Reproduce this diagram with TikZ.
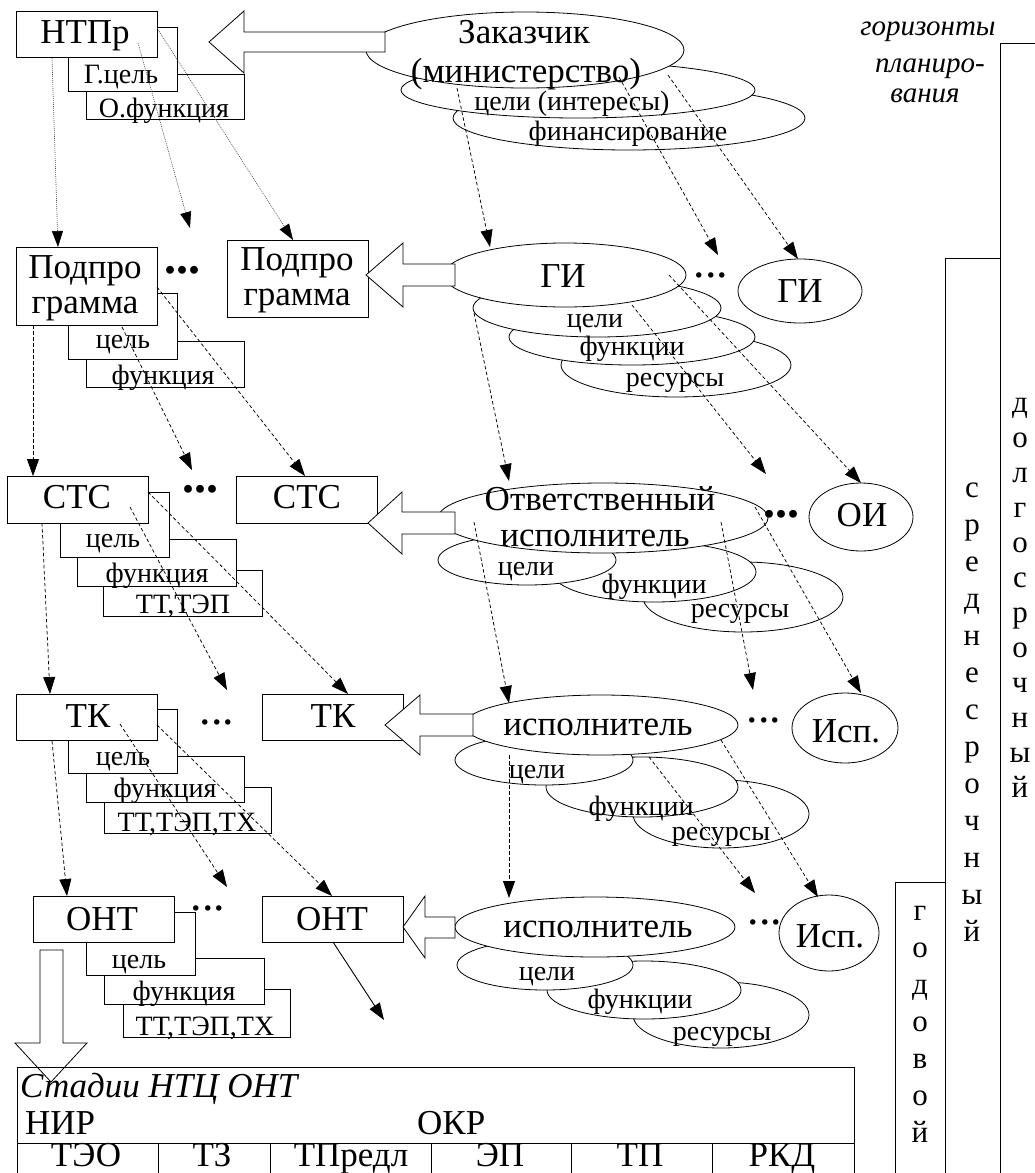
\documentclass[tikz,border=0pt]{standalone}
\usepackage{fontspec}
\setmainfont{Liberation Serif}
\usetikzlibrary{arrows.meta,shapes.geometric,fit}
\begin{document}
\begin{tikzpicture}[x=1pt,y=-1pt,
  frm/.style={line width=0.8pt},
  box/.style={draw,fill=white,line width=0.8pt,inner sep=0pt,outer sep=0pt},
  ell/.style={draw,fill=white,ellipse,line width=0.8pt,inner sep=0pt,outer sep=0pt},
  barrow/.style={draw,fill=white,line width=0.8pt,line join=miter},
  txt/.style={inner sep=0pt,anchor=base,font=\fontsize{35}{38}\selectfont},
  stxt/.style={inner sep=0pt,anchor=base,font=\fontsize{28}{32}\selectfont},
  itxt/.style={inner sep=0pt,anchor=base,font=\fontsize{29}{32}\selectfont\itshape},
  ltxt/.style={inner sep=0pt,anchor=mid,font=\fontsize{31}{34}\selectfont},
  tbl/.style={inner sep=0pt,anchor=base,font=\fontsize{35}{38}\selectfont},
  bdots/.style={inner sep=0pt,anchor=base,font=\fontsize{48}{52}\selectfont\bfseries},
  rdots/.style={inner sep=0pt,anchor=base,font=\fontsize{46}{50}\selectfont},
  dsh/.style={line width=0.75pt,dash pattern=on 3.5pt off 2.5pt,-{Triangle[length=17pt,width=12pt]}},
  dtd/.style={line width=0.6pt,black!70,dash pattern=on 1pt off 1pt,-{Triangle[length=16pt,width=11pt,color=black]}},
  sol/.style={line width=0.9pt,-{Triangle[length=17pt,width=12pt]}}
]
\useasboundingbox (0,0) rectangle (1034,1173);
\fill[white] (0,0) rectangle (1034,1173);

% ---------- planning horizons ----------
\draw[frm] (1000,1180) -- (1000,43) -- (1040,43);
\draw[frm] (945,1180) -- (945,258) -- (1000,258);
\draw[frm] (895,1180) -- (895,882) -- (945,882);
\node[itxt] (hz1) at (928,35) {горизонты};
\node[itxt] (hz2) at (930,72) {планиро-};
\node[itxt] (hz3) at (925,102) {вания};
\foreach \c [count=\i from 0] in {д,о,л,г,о,с,р,о,ч,н,ы,й}
  \node[ltxt] (dl\i) at (1020,410+35*\i) {\c};
\foreach \c [count=\i from 0] in {с,р,е,д,н,е,с,р,о,ч,н,ы,й}
  \node[ltxt] (sr\i) at (972,495+37*\i) {\c};
\foreach \c [count=\i from 0] in {г,о,д,о,в,о,й}
  \node[ltxt] (gd\i) at (920,918+37*\i) {\c};

% ---------- row 1 ----------
\node[box,fit={(86,74)(244,119)}] (ofun) {};
\node[box,fit={(68,27)(177,91)}] (gcel) {};
\node[box,fit={(16,11)(157,57)}] (ntpr) {};
\node[ell,minimum width=352pt,minimum height=64pt] (fin) at (629,118) {};
\node[ell,minimum width=354pt,minimum height=56pt] (zcel) at (578,90) {};
\node[ell,minimum width=318pt,minimum height=76pt] (zak) at (525,50) {};
\draw[barrow] (209,42) -- (244,11) -- (244,32) -- (385,32) -- (385,52) -- (244,52) -- (244,73) -- cycle;
\node[txt] (tntpr) at (85,43) {НТПр};
\node[stxt] (tgcel) at (121,83) {Г.цель};
\node[stxt] (tofun) at (164,117) {О.функция};
\node[txt] (tzak1) at (524,43) {Заказчик};
\node[txt] (tzak2) at (526,82) {(министерство)};
\node[stxt] (tzcel) at (572,110) {цели (интересы)};
\node[stxt] (tfin) at (628,140) {финансирование};

% ---------- row 2 ----------
\node[box,fit={(86,341)(244,387)}] (pfun) {};
\node[box,fit={(68,293)(177,359)}] (pcel) {};
\node[box,fit={(16,247)(157,325)}] (pp1) {};
\node[box,fit={(227,240)(368,317)}] (pp2) {};
\node[ell,minimum width=230pt,minimum height=64pt] (gres) at (676,365) {};
\node[ell,minimum width=246pt,minimum height=56pt] (gfun) at (632,337) {};
\node[ell,minimum width=248pt,minimum height=58pt] (gcelx) at (597,308) {};
\node[ell,minimum width=242pt,minimum height=64pt] (gi) at (565,275) {};
\node[ell,minimum width=124pt,minimum height=64pt] (gi2) at (800,291) {};
\draw[barrow] (366,275) -- (403,243) -- (403,264) -- (455,264) -- (455,286) -- (403,286) -- (403,307) -- cycle;
\node[txt] (tpp1a) at (85,278) {Подпро};
\node[txt] (tpp1b) at (85,313) {грамма};
\node[stxt] (tpcel) at (123,348) {цель};
\node[stxt] (tpfun) at (163,384) {функция};
\node[txt] (tpp2a) at (297,270) {Подпро};
\node[txt] (tpp2b) at (297,305) {грамма};
\node[bdots] (dot2l) at (182,273) {...};
\node[txt] (tgi) at (563,287) {ГИ};
\node[rdots] (dot2r) at (711,277) {...};
\node[txt] (tgi2) at (800,302) {ГИ};
\node[stxt] (tgcelx) at (595,327) {цели};
\node[stxt] (tgfun) at (632,355) {функции};
\node[stxt] (tgres) at (675,386) {ресурсы};

% ---------- row 3 ----------
\node[box,fit={(103,570)(262,616)}] (stt) {};
\node[box,fit={(77,539)(236,586)}] (sfun) {};
\node[box,fit={(60,492)(169,557)}] (scel) {};
\node[box,fit={(7,476)(148,523)}] (sts1) {};
\node[box,fit={(236,476)(377,523)}] (sts2) {};
\node[ell,minimum width=200pt,minimum height=70pt] (ores) at (743,597) {};
\node[ell,minimum width=204pt,minimum height=60pt] (ofunx) at (654,572) {};
\node[ell,minimum width=178pt,minimum height=50pt] (ocel) at (527,560) {};
\node[ell,minimum width=330pt,minimum height=70pt] (otv) at (603,518) {};
\node[ell,minimum width=104pt,minimum height=68pt] (oi) at (861,517) {};
\draw[barrow] (368,523) -- (402,492) -- (402,512) -- (455,512) -- (455,534) -- (402,534) -- (402,554) -- cycle;
\node[txt] (tsts1) at (77,508) {СТС};
\node[stxt] (tscel) at (113,547) {цель};
\node[stxt] (tsfun) at (157,582) {функция};
\node[stxt] (tstt) at (183,613) {ТТ,ТЭП};
\node[txt] (tsts2) at (307,508) {СТС};
\node[bdots] (dot3l) at (200,492) {...};
\node[txt] (totv1) at (600,510) {Ответственный};
\node[txt] (totv2) at (595,546) {исполнитель};
\node[bdots] (dot3r) at (781,517) {...};
\node[txt] (toi) at (862,526) {ОИ};
\node[stxt] (tocel) at (526,575) {цели};
\node[stxt] (tofunx) at (654,593) {функции};
\node[stxt] (tores) at (740,617) {ресурсы};

% ---------- row 4 ----------
\node[box,fit={(104,787)(271,833)}] (ktt) {};
\node[box,fit={(86,756)(244,802)}] (kfun) {};
\node[box,fit={(68,709)(177,773)}] (kcel) {};
\node[box,fit={(16,694)(157,740)}] (tk1) {};
\node[box,fit={(262,694)(403,740)}] (tk2) {};
\node[ell,minimum width=176pt,minimum height=68pt] (ires) at (721,814) {};
\node[ell,minimum width=192pt,minimum height=60pt] (ifun) at (642,787) {};
\node[ell,minimum width=178pt,minimum height=50pt] (icel) at (544,760) {};
\node[ell,minimum width=274pt,minimum height=60pt] (isp) at (601,725) {};
\node[ell,minimum width=106pt,minimum height=70pt] (isp2) at (845,728) {};
\draw[barrow] (385,725) -- (420,695) -- (420,714) -- (473,714) -- (473,736) -- (420,736) -- (420,755) -- cycle;
\node[txt] (ttk1) at (88,727) {ТК};
\node[stxt] (tkcel) at (123,765) {цель};
\node[stxt] (tkfun) at (165,797) {функция};
\node[stxt] (tktt) at (187,831) {ТТ,ТЭП,ТХ};
\node[txt] (ttk2) at (333,727) {ТК};
\node[rdots] (dot4l) at (217,724) {...};
\node[txt] (tisp) at (598,735) {исполнитель};
\node[rdots] (dot4r) at (764,722) {...};
\node[txt] (tisp2) at (846,742) {Исп.};
\node[stxt] (ticel) at (537,778) {цели};
\node[stxt] (tifun) at (641,815) {функции};
\node[stxt] (tires) at (721,840) {ресурсы};

% ---------- row 5 ----------
\node[box,fit={(123,989)(290,1037)}] (ntt) {};
\node[box,fit={(104,958)(264,1004)}] (nfun) {};
\node[box,fit={(86,912)(195,975)}] (ncel) {};
\node[box,fit={(33,896)(174,942)}] (ont1) {};
\node[box,fit={(262,896)(403,942)}] (ont2) {};
\node[ell,minimum width=176pt,minimum height=66pt] (jres) at (721,1015) {};
\node[ell,minimum width=194pt,minimum height=58pt] (jfun) at (644,990) {};
\node[ell,minimum width=176pt,minimum height=50pt] (jcel) at (545,965) {};
\node[ell,minimum width=280pt,minimum height=60pt] (jsp) at (595,927) {};
\node[ell,minimum width=100pt,minimum height=76pt] (jsp2) at (829,933) {};
\draw[barrow] (403,927) -- (425,896) -- (425,917) -- (455,917) -- (455,938) -- (425,938) -- (425,958) -- cycle;
\node[txt] (tont1) at (102,930) {ОНТ};
\node[stxt] (tncel) at (139,968) {цель};
\node[stxt] (tnfun) at (184,1000) {функция};
\node[stxt] (tntt) at (205,1035) {ТТ,ТЭП,ТХ};
\node[txt] (tont2) at (332,930) {ОНТ};
\node[rdots] (dot5l) at (208,910) {...};
\node[txt] (tjsp) at (598,937) {исполнитель};
\node[rdots] (dot5r) at (765,924) {...};
\node[txt] (tjsp2) at (830,947) {Исп.};
\node[stxt] (tjcel) at (547,980) {цели};
\node[stxt] (tjfun) at (640,1008) {функции};
\node[stxt] (tjres) at (722,1040) {ресурсы};

% ---------- down arrow and stage table ----------
\draw[barrow] (40,950) -- (63,950) -- (63,1043) -- (87,1043) -- (51,1082) -- (15,1043) -- (40,1043) -- cycle;
\draw[frm] (17,1180) -- (17,1067) -- (854,1067) -- (854,1180);
\draw[frm] (17,1143) -- (854,1143);
\foreach \x in {158,270,431,571,712} \draw[frm] (\x,1143) -- (\x,1180);
\node[tbl,anchor=base west,font=\fontsize{35}{38}\selectfont\itshape] (st) at (20,1097) {Стадии НТЦ ОНТ};
\node[tbl,anchor=base west] (nir) at (25,1134) {НИР};
\node[tbl,anchor=base west] (okr) at (417,1134) {ОКР};
\node[tbl] (c1) at (86,1166) {ТЭО};
\node[tbl] (c2) at (212,1166) {ТЗ};
\node[tbl] (c3) at (351,1166) {ТПредл};
\node[tbl] (c4) at (500,1166) {ЭП};
\node[tbl] (c5) at (640,1166) {ТП};
\node[tbl] (c6) at (782,1166) {РКД};

% ---------- connectors ----------
\coordinate (a1s) at (52,58);   \coordinate (a1e) at (58,247);
\coordinate (a2s) at (138,43);  \coordinate (a2e) at (190,228);
\coordinate (a3s) at (157,28);  \coordinate (a3e) at (293,240);
\coordinate (b1s) at (457,88);  \coordinate (b1e) at (490,247);
\coordinate (b2s) at (619,77);  \coordinate (b2e) at (718,255);
\coordinate (b3s) at (668,75);  \coordinate (b3e) at (798,259);
\coordinate (c1s) at (33,325);  \coordinate (c1e) at (33,476);
\coordinate (c2s) at (122,327); \coordinate (c2e) at (192,470);
\coordinate (c3s) at (157,287); \coordinate (c3e) at (305,476);
\coordinate (d1s) at (474,313); \coordinate (d1e) at (509,481);
\coordinate (d2s) at (632,305); \coordinate (d2e) at (766,474);
\coordinate (d3s) at (669,275); \coordinate (d3e) at (861,483);
\coordinate (e1s) at (42,523);  \coordinate (e1e) at (50,694);
\coordinate (e2s) at (130,507); \coordinate (e2e) at (227,690);
\coordinate (e3s) at (148,492); \coordinate (e3e) at (348,694);
\coordinate (f1s) at (474,522); \coordinate (f1e) at (509,703);
\coordinate (f2s) at (721,522); \coordinate (f2e) at (753,690);
\coordinate (f3s) at (755,507); \coordinate (f3e) at (861,693);
\coordinate (g1s) at (52,741);  \coordinate (g1e) at (67,896);
\coordinate (g2s) at (120,724); \coordinate (g2e) at (227,887);
\coordinate (g3s) at (157,725); \coordinate (g3e) at (332,896);
\coordinate (h1s) at (509,755); \coordinate (h1e) at (509,898);
\coordinate (h2s) at (649,757); \coordinate (h2e) at (755,893);
\coordinate (h3s) at (721,740); \coordinate (h3e) at (818,897);
\coordinate (ss) at (333,942);  \coordinate (se) at (384,1020);

\foreach \p in {a1,a2,a3} \draw[dtd] (\p s) -- (\p e);
\foreach \p in {b1,b2,b3,c1,c2,c3,d1,d2,d3,e1,e2,e3,f1,f2,f3,g1,g2,g3,h1,h2,h3}
  \draw[dsh] (\p s) -- (\p e);
\draw[sol] (ss) -- (se);
\end{tikzpicture}
\end{document}
